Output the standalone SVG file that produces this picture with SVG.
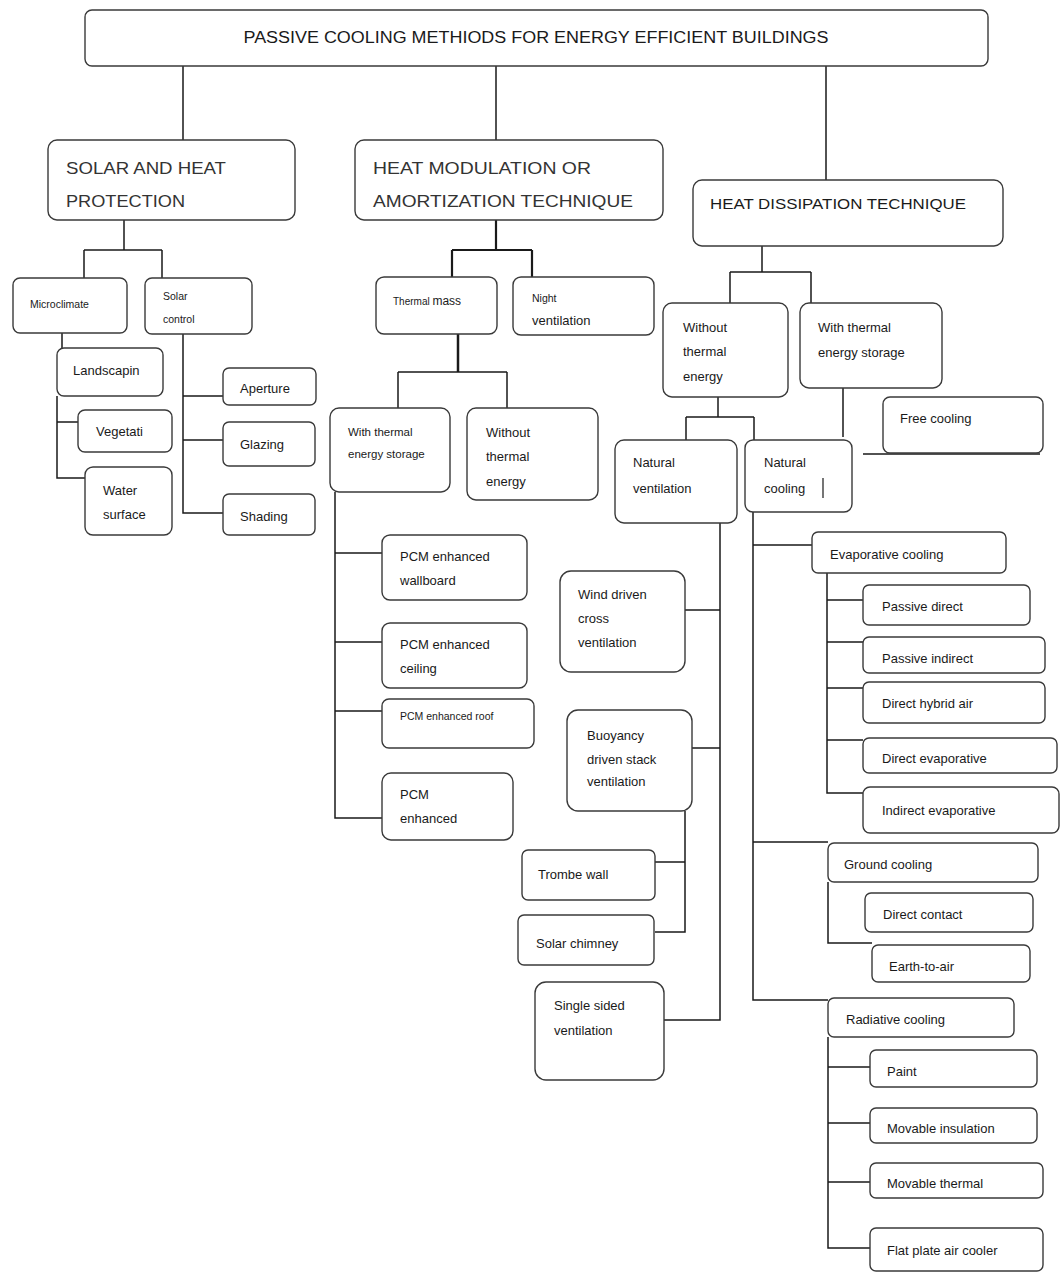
<svg xmlns="http://www.w3.org/2000/svg" width="1061" height="1273" viewBox="0 0 1061 1273">
<style>
.b{fill:#fff;stroke:#3a3a3a;stroke-width:1.4}
.t{font-family:"Liberation Sans",Arial,sans-serif;font-size:13px;fill:#1a1a1a}
.s{font-size:10.5px}
.h{font-size:17px;fill:#333}
.c{fill:none;stroke:#1a1a1a;stroke-width:1.5}
</style>
<rect width="1061" height="1273" fill="#fff"/>
<g id="connectors" class="c">
<path d="M183 66V140M496 66V140M826 66V180"/>
<path d="M124 220V250M84 250H162M84 250V278M162 250V278"/>
<path d="M62 333V348M57 396V478H85M57 422H78"/>
<path d="M183 334V513H223M183 396H223M183 440H223"/>
<path d="M496 220V250M452 250H532M452 250V277M532 250V277" stroke-width="2.2"/>
<path d="M458 334V372" stroke-width="2.5"/>
<path d="M398 372H507M398 372V408M507 372V408"/>
<path d="M335 492V818H382M335 553H382M335 642H382M335 711H382"/>
<path d="M762 246V272M730 272H811M730 272V303M811 272V303"/>
<path d="M718 397V417M686 417H754M686 417V440M754 417V440"/>
<path d="M843 388V437M863 454H1040"/>
<path d="M720 523V1020H664M685 610H720M692 748H720"/>
<path d="M685 811V932H655M655 862H685"/>
<path d="M753 512V1000H828M753 545H812M753 842H828"/>
<path d="M827 573V793H863M827 600H863M827 642H863M827 688H863M827 740H863"/>
<path d="M828 882V943H872"/>
<path d="M828 1037V1248H870M828 1067H870M828 1123H870M828 1182H870"/>
</g>
<g id="title"><rect class="b" x="85" y="10" width="903" height="56" rx="7"/><text class="t" x="536" y="43" text-anchor="middle" textLength="585" lengthAdjust="spacingAndGlyphs" style="font-size:16px">PASSIVE COOLING METHIODS FOR ENERGY EFFICIENT BUILDINGS</text></g>
<g id="solar"><rect class="b" x="48" y="140" width="247" height="80" rx="9"/><text class="t h" x="66" y="174" textLength="160" lengthAdjust="spacingAndGlyphs">SOLAR AND HEAT</text><text class="t h" x="66" y="207" textLength="119" lengthAdjust="spacingAndGlyphs">PROTECTION</text></g>
<g id="modulation"><rect class="b" x="355" y="140" width="308" height="80" rx="9"/><text class="t h" x="373" y="174" textLength="218" lengthAdjust="spacingAndGlyphs">HEAT MODULATION OR</text><text class="t h" x="373" y="207" textLength="260" lengthAdjust="spacingAndGlyphs">AMORTIZATION TECHNIQUE</text></g>
<g id="dissipation"><rect class="b" x="693" y="180" width="310" height="66" rx="9"/><text class="t" x="710" y="209" style="font-size:15px" textLength="256" lengthAdjust="spacingAndGlyphs">HEAT DISSIPATION TECHNIQUE</text></g>
<g id="microclimate"><rect class="b" x="13" y="278" width="114" height="55" rx="7"/><text class="t s" x="30" y="308">Microclimate</text></g>
<g id="solar-control"><rect class="b" x="145" y="278" width="107" height="56" rx="7"/><text class="t s" x="163" y="300">Solar</text><text class="t s" x="163" y="323">control</text></g>
<g id="landscaping"><rect class="b" x="57" y="348" width="106" height="48" rx="7"/><text class="t" x="73" y="375">Landscapin</text></g>
<g id="vegetation"><rect class="b" x="78" y="410" width="94" height="42" rx="7"/><text class="t" x="96" y="436">Vegetati</text></g>
<g id="water"><rect class="b" x="85" y="467" width="87" height="68" rx="8"/><text class="t" x="103" y="495">Water</text><text class="t" x="103" y="519">surface</text></g>
<g id="aperture"><rect class="b" x="223" y="368" width="93" height="37" rx="6"/><text class="t" x="240" y="393">Aperture</text></g>
<g id="glazing"><rect class="b" x="223" y="422" width="92" height="44" rx="6"/><text class="t" x="240" y="449">Glazing</text></g>
<g id="shading"><rect class="b" x="223" y="494" width="92" height="41" rx="6"/><text class="t" x="240" y="521">Shading</text></g>
<g id="thermal-mass"><rect class="b" x="376" y="277" width="121" height="57" rx="8"/><text class="t" x="393" y="305"><tspan style="font-size:10px">Thermal </tspan><tspan style="font-size:12px">mass</tspan></text></g>
<g id="night-ventilation"><rect class="b" x="513" y="277" width="141" height="58" rx="8"/><text class="t s" x="532" y="302">Night</text><text class="t" x="532" y="325">ventilation</text></g>
<g id="with-tes-mid"><rect class="b" x="330" y="408" width="120" height="84" rx="9"/><text class="t" x="348" y="436" style="font-size:11.5px">With thermal</text><text class="t" x="348" y="458" style="font-size:11.5px">energy storage</text></g>
<g id="without-te-mid"><rect class="b" x="467" y="408" width="131" height="92" rx="9"/><text class="t" x="486" y="437">Without</text><text class="t" x="486" y="461">thermal</text><text class="t" x="486" y="486">energy</text></g>
<g id="pcm-wallboard"><rect class="b" x="382" y="535" width="145" height="65" rx="8"/><text class="t" x="400" y="561">PCM enhanced</text><text class="t" x="400" y="585">wallboard</text></g>
<g id="pcm-ceiling"><rect class="b" x="382" y="623" width="145" height="65" rx="8"/><text class="t" x="400" y="649">PCM enhanced</text><text class="t" x="400" y="673">ceiling</text></g>
<g id="pcm-roof"><rect class="b" x="382" y="699" width="152" height="49" rx="7"/><text class="t" x="400" y="720" style="font-size:10.5px">PCM enhanced roof</text></g>
<g id="pcm-enhanced"><rect class="b" x="382" y="773" width="131" height="67" rx="9"/><text class="t" x="400" y="799">PCM</text><text class="t" x="400" y="823">enhanced</text></g>
<g id="without-te-right"><rect class="b" x="663" y="303" width="125" height="94" rx="9"/><text class="t" x="683" y="332">Without</text><text class="t" x="683" y="356">thermal</text><text class="t" x="683" y="381">energy</text></g>
<g id="with-tes-right"><rect class="b" x="800" y="303" width="142" height="85" rx="9"/><text class="t" x="818" y="332">With thermal</text><text class="t" x="818" y="357">energy storage</text></g>
<g id="free-cooling"><rect class="b" x="883" y="397" width="160" height="56" rx="7"/><text class="t" x="900" y="423">Free cooling</text></g>
<g id="natural-ventilation"><rect class="b" x="615" y="440" width="122" height="83" rx="9"/><text class="t" x="633" y="467">Natural</text><text class="t" x="633" y="493">ventilation</text></g>
<g id="natural-cooling"><rect class="b" x="745" y="440" width="107" height="72" rx="8"/><text class="t" x="764" y="467">Natural</text><text class="t" x="764" y="493">cooling</text><path d="M823 478V498" stroke="#1a1a1a" stroke-width="1.2"/></g>
<g id="wind-driven"><rect class="b" x="560" y="571" width="125" height="101" rx="11"/><text class="t" x="578" y="599">Wind driven</text><text class="t" x="578" y="623">cross</text><text class="t" x="578" y="647">ventilation</text></g>
<g id="buoyancy"><rect class="b" x="567" y="710" width="125" height="101" rx="11"/><text class="t" x="587" y="740">Buoyancy</text><text class="t" x="587" y="764">driven stack</text><text class="t" x="587" y="786">ventilation</text></g>
<g id="trombe"><rect class="b" x="522" y="850" width="133" height="50" rx="6"/><text class="t" x="538" y="879">Trombe wall</text></g>
<g id="solar-chimney"><rect class="b" x="518" y="915" width="136" height="50" rx="6"/><text class="t" x="536" y="948">Solar chimney</text></g>
<g id="single-sided"><rect class="b" x="535" y="982" width="129" height="98" rx="11"/><text class="t" x="554" y="1010">Single sided</text><text class="t" x="554" y="1035">ventilation</text></g>
<g id="evaporative"><rect class="b" x="812" y="532" width="194" height="41" rx="6"/><text class="t" x="830" y="559">Evaporative cooling</text></g>
<g id="passive-direct"><rect class="b" x="863" y="585" width="167" height="40" rx="6"/><text class="t" x="882" y="611">Passive direct</text></g>
<g id="passive-indirect"><rect class="b" x="863" y="637" width="182" height="36" rx="6"/><text class="t" x="882" y="663">Passive indirect</text></g>
<g id="direct-hybrid"><rect class="b" x="863" y="682" width="182" height="41" rx="6"/><text class="t" x="882" y="708">Direct hybrid air</text></g>
<g id="direct-evap"><rect class="b" x="863" y="738" width="194" height="35" rx="6"/><text class="t" x="882" y="763">Direct evaporative</text></g>
<g id="indirect-evap"><rect class="b" x="863" y="787" width="196" height="46" rx="7"/><text class="t" x="882" y="815">Indirect evaporative</text></g>
<g id="ground"><rect class="b" x="828" y="843" width="210" height="39" rx="6"/><text class="t" x="844" y="869">Ground cooling</text></g>
<g id="direct-contact"><rect class="b" x="865" y="893" width="168" height="39" rx="6"/><text class="t" x="883" y="919">Direct contact</text></g>
<g id="earth-to-air"><rect class="b" x="872" y="945" width="158" height="37" rx="6"/><text class="t" x="889" y="971">Earth-to-air</text></g>
<g id="radiative"><rect class="b" x="828" y="998" width="186" height="39" rx="6"/><text class="t" x="846" y="1024">Radiative cooling</text></g>
<g id="paint"><rect class="b" x="870" y="1050" width="167" height="37" rx="6"/><text class="t" x="887" y="1076">Paint</text></g>
<g id="movable-insulation"><rect class="b" x="870" y="1108" width="167" height="35" rx="6"/><text class="t" x="887" y="1133">Movable insulation</text></g>
<g id="movable-thermal"><rect class="b" x="870" y="1163" width="173" height="35" rx="6"/><text class="t" x="887" y="1188">Movable thermal</text></g>
<g id="flat-plate"><rect class="b" x="870" y="1228" width="173" height="43" rx="6"/><text class="t" x="887" y="1255">Flat plate air cooler</text></g>
</svg>
